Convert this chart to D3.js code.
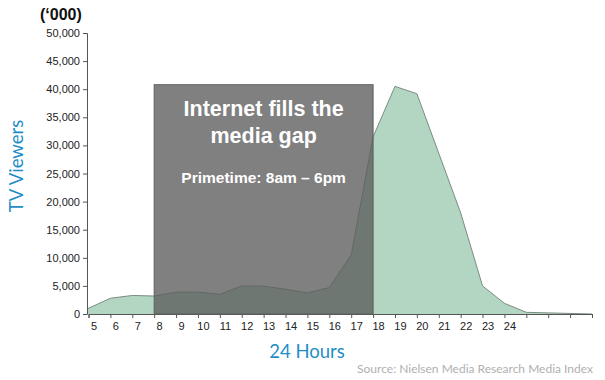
<!DOCTYPE html>
<html>
<head>
<meta charset="utf-8">
<script src="https://cdn.jsdelivr.net/npm/d3@7.9.0/dist/d3.min.js"></script>
<style>
  body { margin: 0; background: #fff; }
  svg text { font-family: "Liberation Sans", Arial, sans-serif; }
</style>
</head>
<body>
<svg id="chart" width="605" height="380"></svg>
<script>
// hours of the day (axis runs past 24 with unlabelled ticks)
const hours = [5, 6, 7, 8, 9, 10, 11, 12, 13, 14, 15, 16, 17, 18, 19, 20, 21, 22, 23, 24, 25, 26, 27, 28];
// TV viewers ('000)
const viewers = [900, 2800, 3300, 3200, 3900, 3900, 3500, 5000, 4950, 4400, 3750, 4700, 10500, 31500, 40500, 39200, 28600, 18000, 5000, 1900, 300, 200, 100, 0];
const hourLabels = [5, 6, 7, 8, 9, 10, 11, 12, 13, 14, 15, 16, 17, 18, 19, 20, 21, 22, 23, 24];
const yTicks = [0, 5000, 10000, 15000, 20000, 25000, 30000, 35000, 40000, 45000, 50000];
// primetime block
const primeHours = [8, 18];
const primeTop = 40800;

const svg = d3.select('#chart');

let x = d3.scaleLinear().domain([5, 28]).range([88.5, 592]);
let y = d3.scaleLinear().domain([0, 50000]).range([314, 33]);
let axisX = 87;

let points = hours.map((h, i) => ({ hour: h, value: viewers[i] }));

let area = d3.area()
    .x(d => d.hour === 5 ? axisX : x(d.hour))
    .y0(y(0))
    .y1(d => y(d.value));

let line = d3.line()
    .x(d => d.hour === 5 ? axisX : x(d.hour))
    .y(d => y(d.value));

svg.append('path')
    .datum(points)
    .attr('d', area)
    .attr('fill', '#b3d6c2');

svg.append('path')
    .datum(points)
    .attr('d', line)
    .attr('fill', 'none')
    .attr('stroke', '#7b8c82')
    .attr('stroke-width', 1);

// axes
let yAxis = d3.axisLeft(y)
    .tickValues(yTicks)
    .tickSize(4)
    .tickPadding(3)
    .tickFormat(d3.format(','));

let yG = svg.append('g')
    .attr('transform', `translate(${axisX},0)`)
    .call(yAxis);

let xAxis = d3.axisBottom(x)
    .tickValues(hours)
    .tickSize(4)
    .tickPadding(4)
    .tickFormat(d => hourLabels.includes(d) ? d : '');

let xG = svg.append('g')
    .attr('transform', `translate(0,${y(0)})`)
    .call(xAxis);

[yG, xG].forEach(g => {
    g.select('.domain').attr('stroke', '#555');
    g.selectAll('.tick line').attr('stroke', '#555');
    g.selectAll('.tick text')
        .attr('fill', '#222')
        .style('font-size', '11px');
});
xG.selectAll('.tick text').attr('dx', 5);

// primetime overlay
svg.append('rect')
    .attr('x', x(primeHours[0]))
    .attr('y', y(primeTop))
    .attr('width', x(primeHours[1]) - x(primeHours[0]))
    .attr('height', y(0) - y(primeTop))
    .attr('fill', 'rgb(92,92,92)')
    .attr('fill-opacity', 0.78)
    .attr('stroke', '#5e5e5e')
    .attr('stroke-width', 1);

let cx = (x(primeHours[0]) + x(primeHours[1])) / 2;

svg.append('text')
    .attr('x', cx).attr('y', 116)
    .attr('text-anchor', 'middle')
    .attr('fill', '#fff')
    .style('font-size', '21.5px')
    .style('font-weight', 'bold')
    .text('Internet fills the');

svg.append('text')
    .attr('x', cx).attr('y', 143)
    .attr('text-anchor', 'middle')
    .attr('fill', '#fff')
    .style('font-size', '21.5px')
    .style('font-weight', 'bold')
    .text('media gap');

svg.append('text')
    .attr('x', cx).attr('y', 183)
    .attr('text-anchor', 'middle')
    .attr('fill', '#fff')
    .style('font-size', '15.5px')
    .style('font-weight', 'bold')
    .text('Primetime: 8am \u2013 6pm');

// labels
svg.append('text')
    .attr('x', 40).attr('y', 20)
    .attr('fill', '#111')
    .style('font-size', '16px')
    .style('font-weight', 'bold')
    .text('(\u2018000)');

svg.append('text')
    .attr('transform', 'translate(23,166) rotate(-90)')
    .attr('text-anchor', 'middle')
    .attr('fill', '#1f8dc6')
    .style('font-family', 'Lato, "Open Sans", sans-serif')
    .style('font-size', '18.5px')
    .text('TV Viewers');

svg.append('text')
    .attr('x', 307).attr('y', 358)
    .attr('text-anchor', 'middle')
    .attr('fill', '#1f8dc6')
    .style('font-family', 'Lato, "Open Sans", sans-serif')
    .style('font-size', '18.5px')
    .text('24 Hours');

svg.append('text')
    .attr('x', 593).attr('y', 373)
    .attr('text-anchor', 'end')
    .attr('fill', '#b0b0b0')
    .style('font-family', 'Lato, "Open Sans", sans-serif')
    .style('font-size', '12px')
    .text('Source: Nielsen Media Research Media Index');
</script>
</body>
</html>
